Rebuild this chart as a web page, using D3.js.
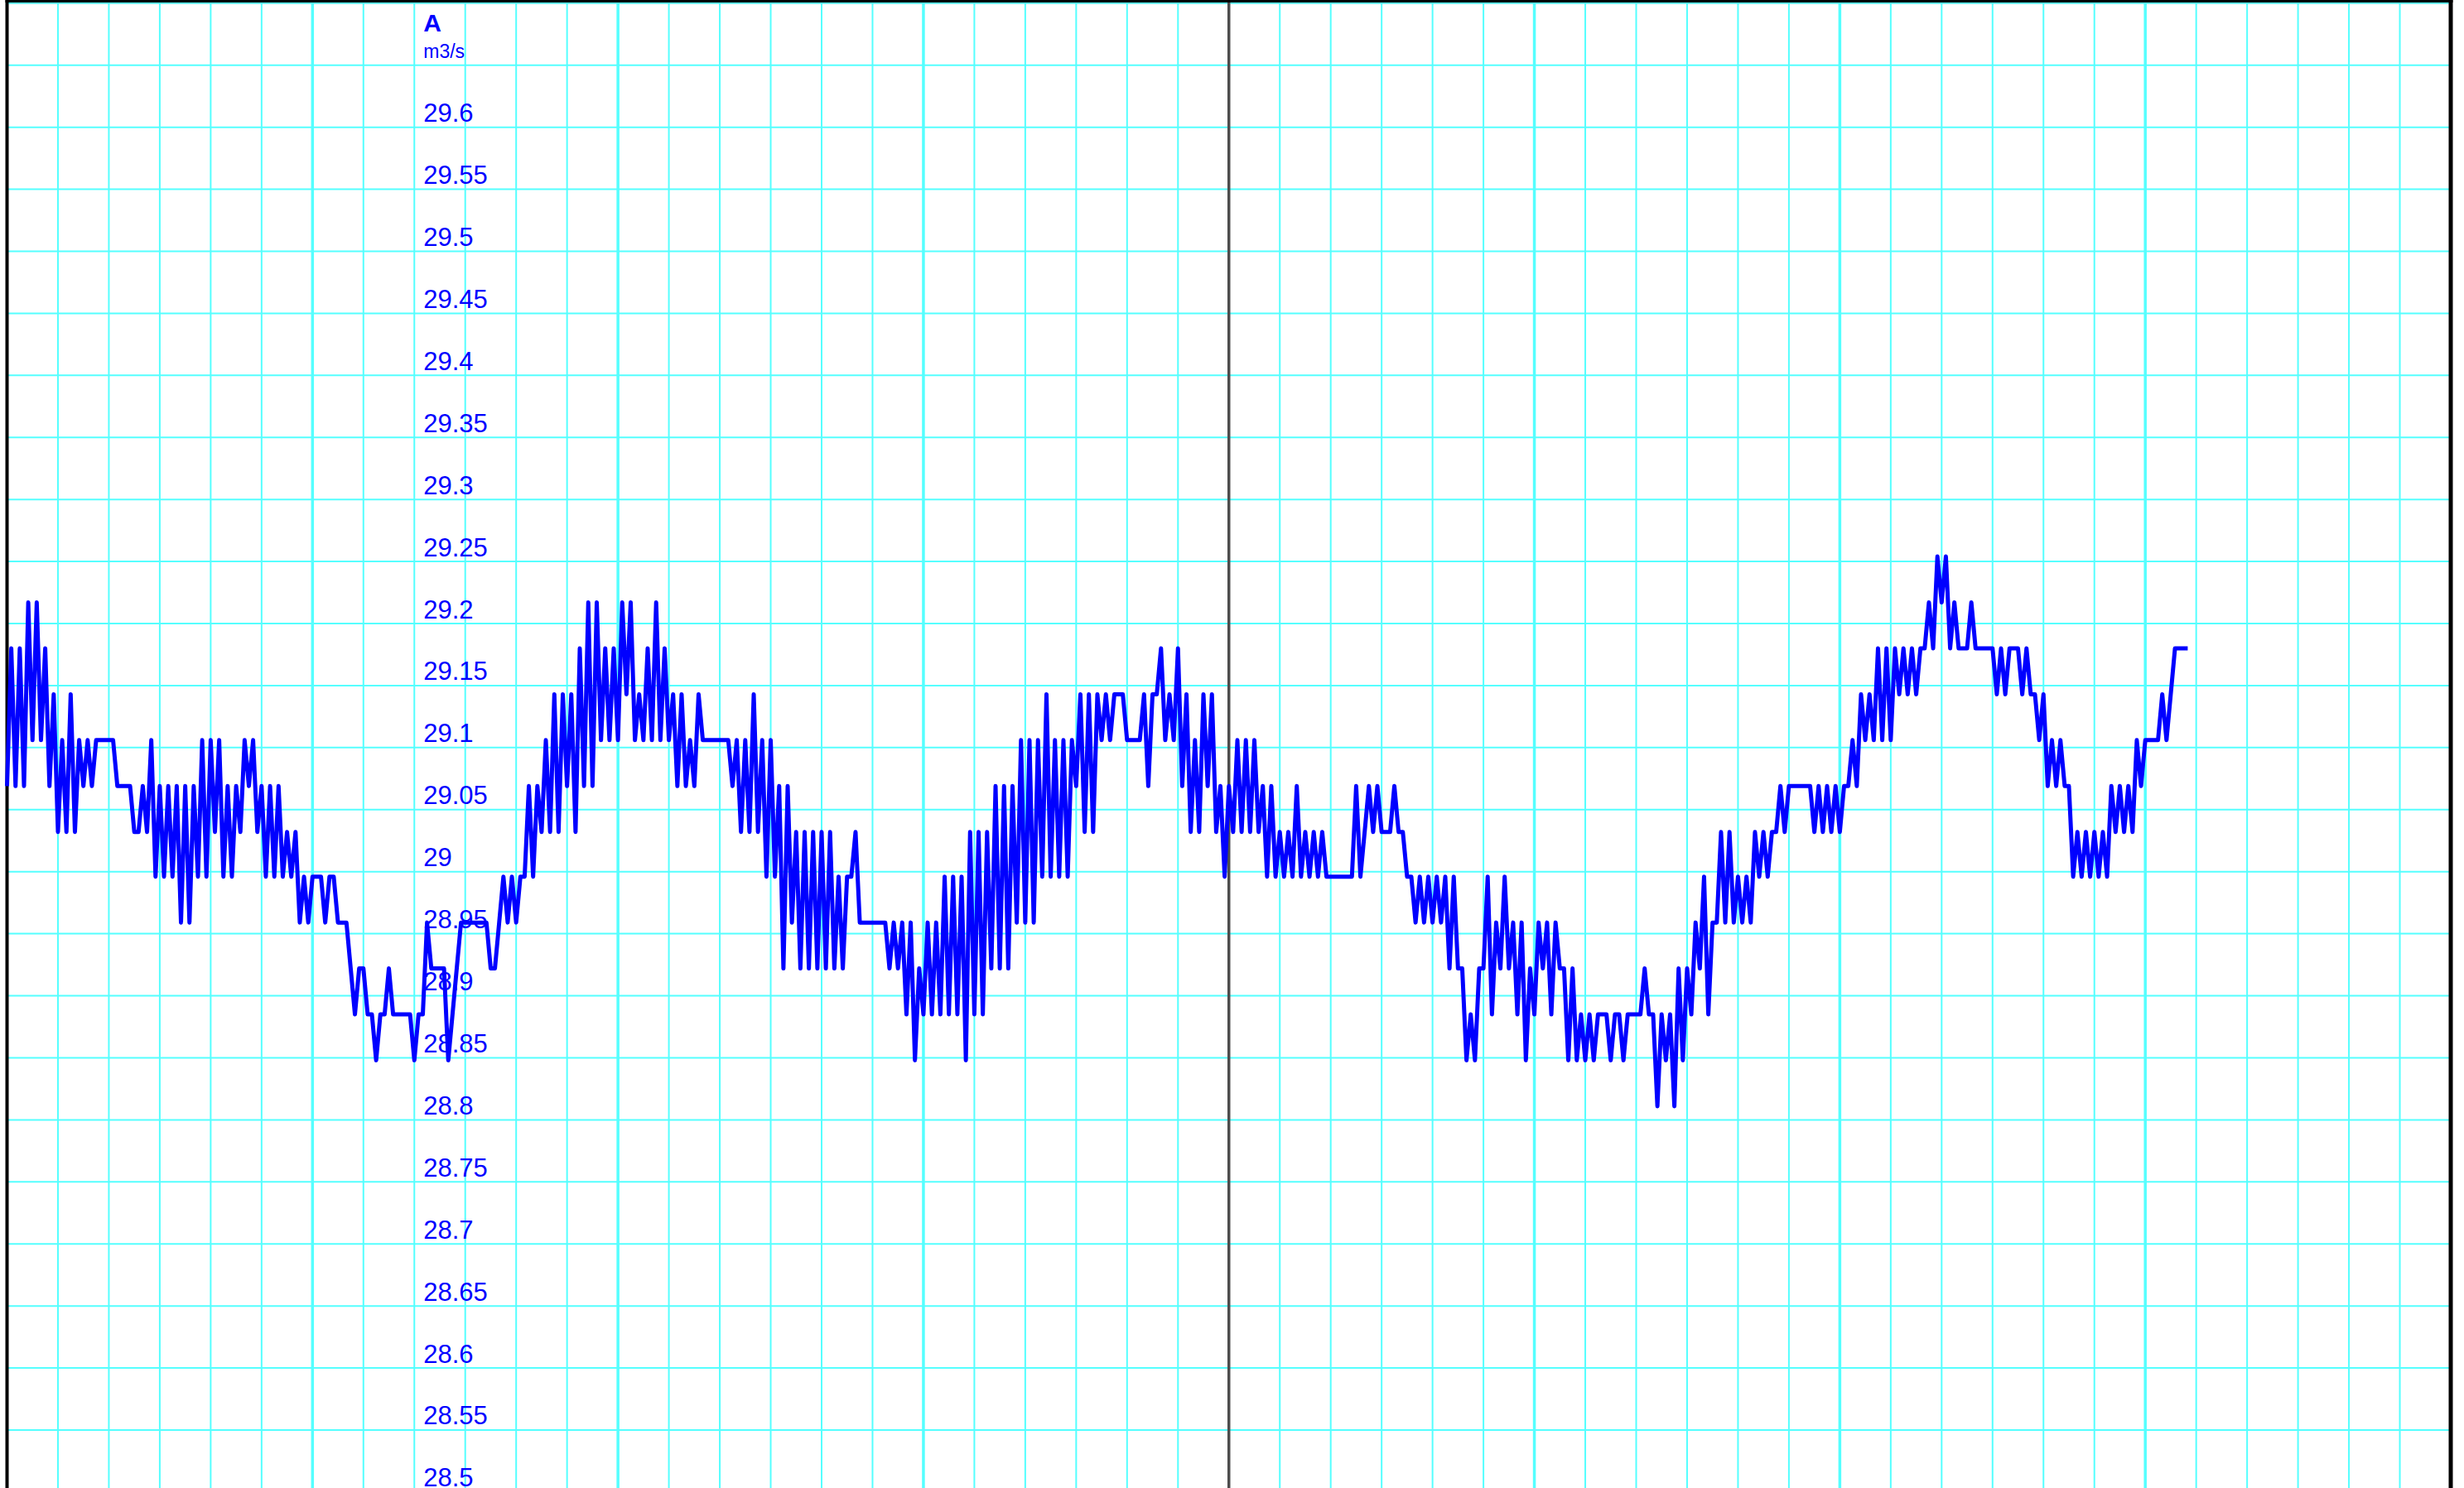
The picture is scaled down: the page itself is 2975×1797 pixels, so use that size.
<!DOCTYPE html>
<html><head><meta charset="utf-8">
<script src="https://cdn.jsdelivr.net/npm/d3@7"></script>
<style>html,body{margin:0;padding:0;background:#fff;overflow:hidden}</style>
</head><body><svg id="chart" width="2975" height="1797"></svg>
<script>
// ---- data ----
const seriesName = "A";
const unitLabel = "m3/s";
const sampleIntervalMin = 5;      // one reading every 5 minutes
const windowHours = 48;           // visible time window
const nowHour = 24;               // dark marker line
const flowValues = [
29.069,29.18,29.069,29.18,29.069,29.217,29.106,29.217,29.106,29.18,
29.069,29.143,29.032,29.106,29.032,29.143,29.032,29.106,29.069,29.106,
29.069,29.106,29.106,29.106,29.106,29.106,29.069,29.069,29.069,29.069,
29.032,29.032,29.069,29.032,29.106,28.996,29.069,28.996,29.069,28.996,
29.069,28.959,29.069,28.959,29.069,28.996,29.106,28.996,29.106,29.032,
29.106,28.996,29.069,28.996,29.069,29.032,29.106,29.069,29.106,29.032,
29.069,28.996,29.069,28.996,29.069,28.996,29.032,28.996,29.032,28.959,
28.996,28.959,28.996,28.996,28.996,28.959,28.996,28.996,28.959,28.959,
28.959,28.922,28.885,28.922,28.922,28.885,28.885,28.848,28.885,28.885,
28.922,28.885,28.885,28.885,28.885,28.885,28.848,28.885,28.885,28.959,
28.922,28.922,28.922,28.922,28.848,28.885,28.922,28.959,28.959,28.959,
28.959,28.959,28.959,28.959,28.922,28.922,28.959,28.996,28.959,28.996,
28.959,28.996,28.996,29.069,28.996,29.069,29.032,29.106,29.032,29.143,
29.032,29.143,29.069,29.143,29.032,29.18,29.069,29.217,29.069,29.217,
29.106,29.18,29.106,29.18,29.106,29.217,29.143,29.217,29.106,29.143,
29.106,29.18,29.106,29.217,29.106,29.18,29.106,29.143,29.069,29.143,
29.069,29.106,29.069,29.143,29.106,29.106,29.106,29.106,29.106,29.106,
29.106,29.069,29.106,29.032,29.106,29.032,29.143,29.032,29.106,28.996,
29.106,28.996,29.069,28.922,29.069,28.959,29.032,28.922,29.032,28.922,
29.032,28.922,29.032,28.922,29.032,28.922,28.996,28.922,28.996,28.996,
29.032,28.959,28.959,28.959,28.959,28.959,28.959,28.959,28.922,28.959,
28.922,28.959,28.885,28.959,28.848,28.922,28.885,28.959,28.885,28.959,
28.885,28.996,28.885,28.996,28.885,28.996,28.848,29.032,28.885,29.032,
28.885,29.032,28.922,29.069,28.922,29.069,28.922,29.069,28.959,29.106,
28.959,29.106,28.959,29.106,28.996,29.143,28.996,29.106,28.996,29.106,
28.996,29.106,29.069,29.143,29.032,29.143,29.032,29.143,29.106,29.143,
29.106,29.143,29.143,29.143,29.106,29.106,29.106,29.106,29.143,29.069,
29.143,29.143,29.18,29.106,29.143,29.106,29.18,29.069,29.143,29.032,
29.106,29.032,29.143,29.069,29.143,29.032,29.069,28.996,29.069,29.032,
29.106,29.032,29.106,29.032,29.106,29.032,29.069,28.996,29.069,28.996,
29.032,28.996,29.032,28.996,29.069,28.996,29.032,28.996,29.032,28.996,
29.032,28.996,28.996,28.996,28.996,28.996,28.996,28.996,29.069,28.996,
29.032,29.069,29.032,29.069,29.032,29.032,29.032,29.069,29.032,29.032,
28.996,28.996,28.959,28.996,28.959,28.996,28.959,28.996,28.959,28.996,
28.922,28.996,28.922,28.922,28.848,28.885,28.848,28.922,28.922,28.996,
28.885,28.959,28.922,28.996,28.922,28.959,28.885,28.959,28.848,28.922,
28.885,28.959,28.922,28.959,28.885,28.959,28.922,28.922,28.848,28.922,
28.848,28.885,28.848,28.885,28.848,28.885,28.885,28.885,28.848,28.885,
28.885,28.848,28.885,28.885,28.885,28.885,28.922,28.885,28.885,28.811,
28.885,28.848,28.885,28.811,28.922,28.848,28.922,28.885,28.959,28.922,
28.996,28.885,28.959,28.959,29.032,28.959,29.032,28.959,28.996,28.959,
28.996,28.959,29.032,28.996,29.032,28.996,29.032,29.032,29.069,29.032,
29.069,29.069,29.069,29.069,29.069,29.069,29.032,29.069,29.032,29.069,
29.032,29.069,29.032,29.069,29.069,29.106,29.069,29.143,29.106,29.143,
29.106,29.18,29.106,29.18,29.106,29.18,29.143,29.18,29.143,29.18,
29.143,29.18,29.18,29.217,29.18,29.254,29.217,29.254,29.18,29.217,
29.18,29.18,29.18,29.217,29.18,29.18,29.18,29.18,29.18,29.143,
29.18,29.143,29.18,29.18,29.18,29.143,29.18,29.143,29.143,29.106,
29.143,29.069,29.106,29.069,29.106,29.069,29.069,28.996,29.032,28.996,
29.032,28.996,29.032,28.996,29.032,28.996,29.069,29.032,29.069,29.032,
29.069,29.032,29.106,29.069,29.106,29.106,29.106,29.106,29.143,29.106,
29.143,29.18,29.18,29.18,29.18
];
const yTickValues = [29.6,29.55,29.5,29.45,29.4,29.35,29.3,29.25,29.2,29.15,29.1,29.05,29,
  28.95,28.9,28.85,28.8,28.75,28.7,28.65,28.6,28.55,28.5];
const yTickLabels = ["29.6","29.55","29.5","29.45","29.4","29.35","29.3","29.25","29.2","29.15","29.1","29.05","29",
  "28.95","28.9","28.85","28.8","28.75","28.7","28.65","28.6","28.55","28.5"];
const yGridValues = [29.7,29.65,29.6,29.55,29.5,29.45,29.4,29.35,29.3,29.25,29.2,29.15,29.1,29.05,29,
  28.95,28.9,28.85,28.8,28.75,28.7,28.65,28.6,28.55,28.5];
const labelHour = 8;

// ---- drawing ----
const W = 2975, H = 1797;
const svg = d3.select("#chart");
const FONT = "'Liberation Sans', Arial, Helvetica, sans-serif";

const x = d3.scaleLinear().domain([0, windowHours * 60]).range([8.5, 2959]);
const y = d3.scaleLinear().domain([28.5, 29.7]).range([1801.9, 3.8]);

svg.append("rect").attr("width", W).attr("height", H).attr("fill", "#fff");

const grid = svg.append("g");
grid.selectAll("line.h").data(yGridValues).enter().append("line")
  .attr("x1", x(0)).attr("x2", x(windowHours * 60))
  .attr("y1", d => y(d)).attr("y2", d => y(d))
  .attr("stroke", "#55ffff").attr("stroke-width", 2);

const hours = d3.range(1, windowHours);
grid.selectAll("line.v").data(hours.filter(h => h !== nowHour)).enter().append("line")
  .attr("x1", h => x(h * 60)).attr("x2", h => x(h * 60))
  .attr("y1", 0).attr("y2", H)
  .attr("stroke", "#55ffff")
  .attr("stroke-width", h => h % 6 === 0 ? 3.5 : 2);

// now marker
svg.append("line").attr("x1", x(nowHour * 60)).attr("x2", x(nowHour * 60))
  .attr("y1", 0).attr("y2", H).attr("stroke", "#4d4d4d").attr("stroke-width", 3.5);

// frame
svg.append("line").attr("x1", x(0)).attr("x2", x(0)).attr("y1", 0).attr("y2", H)
  .attr("stroke", "#000").attr("stroke-width", 4);
svg.append("line").attr("x1", x(windowHours * 60)).attr("x2", x(windowHours * 60)).attr("y1", 0).attr("y2", H)
  .attr("stroke", "#000").attr("stroke-width", 5);
svg.append("line").attr("x1", x(0) - 2).attr("x2", x(windowHours * 60) + 2.5).attr("y1", 1.5).attr("y2", 1.5)
  .attr("stroke", "#000").attr("stroke-width", 3);

// y labels
const yAxis = d3.axisRight(y).tickValues(yTickValues)
  .tickFormat((d, i) => yTickLabels[i]).tickSize(0).tickPadding(11);
const gAxis = svg.append("g").attr("transform", `translate(${x(labelHour * 60)},0)`).call(yAxis);
gAxis.select(".domain").remove();
gAxis.selectAll("text").attr("dy", null).attr("y", -7)
  .attr("fill", "#0000ff").style("font-family", FONT).style("font-size", "31px");

const lx = x(labelHour * 60) + 11;
svg.append("text").attr("x", lx).attr("y", 38).text(seriesName)
  .attr("fill", "#0000ff").style("font-family", FONT).style("font-size", "30px").style("font-weight", "bold");
svg.append("text").attr("x", lx).attr("y", 70).text(unitLabel)
  .attr("fill", "#0000ff").style("font-family", FONT).style("font-size", "23px");

// series
const pts = flowValues.map((v, i) => ({t: i * sampleIntervalMin, v}));
const line = d3.line().x(d => x(d.t)).y(d => y(d.v));
svg.append("path").datum(pts).attr("d", line)
  .attr("fill", "none").attr("stroke", "#0000ff").attr("stroke-width", 5)
  .attr("stroke-linejoin", "round").attr("stroke-linecap", "butt");
</script></body></html>
